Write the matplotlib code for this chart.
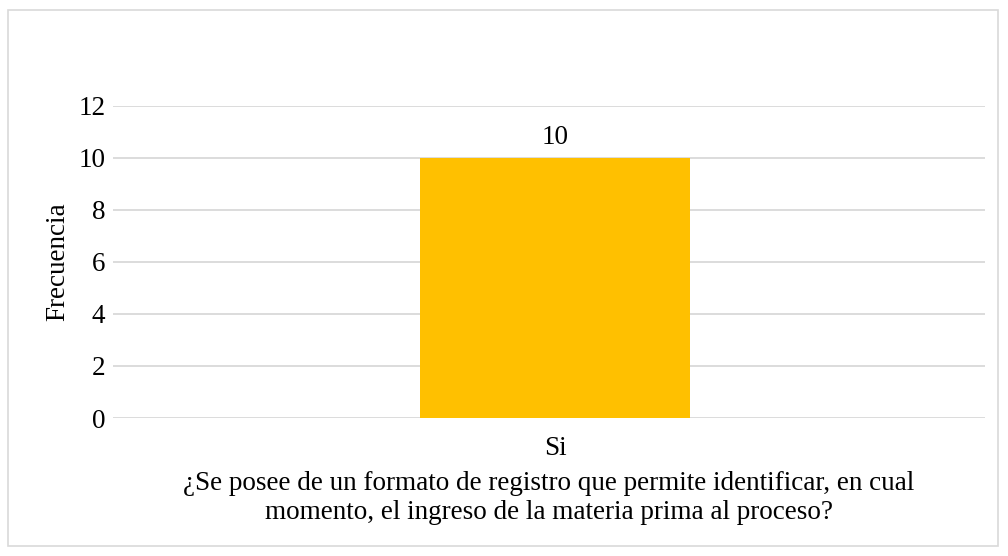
import matplotlib
matplotlib.use('Agg')
import matplotlib.pyplot as plt
from matplotlib.patches import Rectangle

# --- datos ---
categorias = ["Si"]
frecuencias = [10]
ticks_y = [0, 2, 4, 6, 8, 10, 12]
titulo_eje_x = ("¿Se posee de un formato de registro que permite identificar, en cual\n"
                "momento, el ingreso de la materia prima al proceso?")

plt.rcParams['font.family'] = ['Liberation Serif', 'DejaVu Serif']
FS = 19.5

fig = plt.figure(figsize=(10.08, 5.56), dpi=100)
ax = fig.add_axes([0.1121, 0.2482, 0.8651, 0.5612])

# marco exterior del grafico
fig.patches.append(Rectangle((8 / 1008, 10 / 556), 990 / 1008, 536 / 556,
                             transform=fig.transFigure, fill=False,
                             edgecolor='#d9d9d9', linewidth=1.2))

x = list(range(len(categorias)))
barras = ax.bar(x, frecuencias, width=0.31, color='#FFC000', zorder=3)
ax.bar_label(barras, labels=[str(v) for v in frecuencias], padding=6, fontsize=FS)

ax.set_xlim(-0.507, 0.493)
ax.set_ylim(0, 12)
ax.set_yticks(ticks_y)
ax.set_xticks(x)
ax.set_xticklabels(categorias)
ax.tick_params(axis='both', length=0, labelsize=FS)
ax.tick_params(axis='y', pad=5.5)
ax.tick_params(axis='x', pad=13)

ax.grid(axis='y', color='#d9d9d9', linewidth=1.3, zorder=0)
for s in ax.spines.values():
    s.set_visible(False)

ax.set_ylabel("Frecuencia", fontsize=FS)
ax.yaxis.set_label_coords(-0.0495, 0.5)
ax.set_xlabel(titulo_eje_x, fontsize=FS, labelpad=7, linespacing=1.22)

fig.savefig('out.png', dpi=100)
